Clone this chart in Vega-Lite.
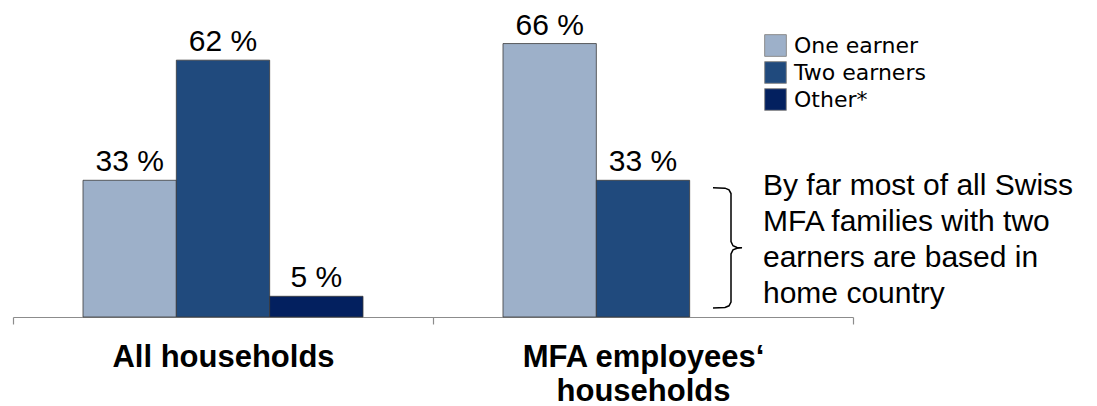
{
  "$schema": "https://vega.github.io/schema/vega-lite/v6.json",
  "width": 840,
  "height": 290,
  "autosize": {"type": "none"},
  "padding": {"left": 13, "top": 27, "right": 244, "bottom": 89},
  "background": "white",
  "config": {"view": {"stroke": null}, "font": "Liberation Sans"},
  "datasets": {
    "bars": [
      {"group": "All households", "series": "One earner", "value": 33, "label": "33 %"},
      {"group": "All households", "series": "Two earners", "value": 62, "label": "62 %"},
      {"group": "All households", "series": "Other*", "value": 5, "label": "5 %"},
      {"group": "MFA employees‘|households", "series": "One earner", "value": 66, "label": "66 %"},
      {"group": "MFA employees‘|households", "series": "Two earners", "value": 33, "label": "33 %"}
    ],
    "brace": [
      {"i": 0, "bx": 700, "by": 31.2},
      {"i": 1, "bx": 712, "by": 31.1},
      {"i": 2, "bx": 716, "by": 30.7},
      {"i": 3, "bx": 718, "by": 29.8},
      {"i": 4, "bx": 718, "by": 18.2},
      {"i": 5, "bx": 720, "by": 17.2},
      {"i": 6, "bx": 724, "by": 16.8},
      {"i": 7, "bx": 729, "by": 16.7},
      {"i": 8, "bx": 724, "by": 16.6},
      {"i": 9, "bx": 720, "by": 16.2},
      {"i": 10, "bx": 718, "by": 15.2},
      {"i": 11, "bx": 718, "by": 3.6},
      {"i": 12, "bx": 716, "by": 2.7},
      {"i": 13, "bx": 712, "by": 2.3},
      {"i": 14, "bx": 700, "by": 2.2}
    ],
    "note": [
      {"bx": 750, "by": 29.5, "text": "By far most of all Swiss|MFA families with two|earners are based in|home country"}
    ]
  },
  "layer": [
    {
      "data": {"name": "bars"},
      "encoding": {
        "x": {
          "field": "group", "type": "nominal", "sort": null,
          "scale": {"paddingInner": 0, "paddingOuter": 0},
          "axis": {
            "title": null,
            "labelAngle": 0,
            "labelExpr": "split(datum.label, '|')",
            "labelFont": "Liberation Sans",
            "labelFontSize": 31,
            "labelFontWeight": "bold",
            "labelColor": "black",
            "labelBaseline": "alphabetic",
            "labelPadding": 42,
            "labelLineHeight": 34,
            "labelLimit": 500,
            "tickBand": "extent",
            "tickSize": 7,
            "tickColor": "#8c8c8c",
            "domainColor": "#8c8c8c",
            "domainWidth": 1.2,
            "tickWidth": 1.2
          }
        },
        "xOffset": {
          "field": "series", "type": "nominal",
          "sort": ["One earner", "Two earners", "Other*"],
          "scale": {"domain": ["One earner", "Two earners", "Other*"], "paddingInner": 0, "paddingOuter": 0.75}
        },
        "y": {
          "field": "value", "type": "quantitative",
          "scale": {"domain": [0, 70], "nice": false},
          "axis": null
        }
      },
      "layer": [
        {
          "mark": {"type": "bar", "stroke": "#3a3a3a", "strokeWidth": 0.8},
          "encoding": {
            "color": {
              "field": "series", "type": "nominal",
              "scale": {"domain": ["One earner", "Two earners", "Other*"], "range": ["#9DB0C9", "#204A7D", "#03205F"]},
              "legend": {
                "title": null,
                "orient": "none",
                "legendX": 751,
                "legendY": 7,
                "symbolType": "square",
                "symbolSize": 470,
                "symbolStrokeColor": "#8c8c8c",
                "symbolStrokeWidth": 1,
                "symbolOpacity": 1,
                "labelFont": "DejaVu Sans",
                "labelFontSize": 22,
                "labelColor": "black",
                "labelOffset": 7,
                "rowPadding": 0,
                "labelLimit": 300
              }
            }
          }
        },
        {
          "mark": {"type": "text", "baseline": "alphabetic", "dy": -9, "fontSize": 30, "font": "Liberation Sans", "color": "black"},
          "encoding": {
            "text": {"field": "label"}
          }
        }
      ]
    },
    {
      "data": {"name": "brace"},
      "mark": {"type": "line", "color": "black", "strokeWidth": 1.5, "interpolate": "linear"},
      "encoding": {
        "x": {"field": "bx", "type": "quantitative", "scale": {"domain": [0, 840], "nice": false, "zero": false}, "axis": null},
        "y": {"field": "by", "type": "quantitative", "axis": null},
        "order": {"field": "i"}
      }
    },
    {
      "data": {"name": "note"},
      "mark": {"type": "text", "align": "left", "baseline": "alphabetic", "fontSize": 30, "font": "Liberation Sans", "lineHeight": 36, "lineBreak": "|", "color": "black"},
      "encoding": {
        "x": {"field": "bx", "type": "quantitative", "scale": {"domain": [0, 840], "nice": false, "zero": false}, "axis": null},
        "y": {"field": "by", "type": "quantitative", "axis": null},
        "text": {"field": "text"}
      }
    }
  ],
  "resolve": {"scale": {"x": "independent", "xOffset": "independent"}, "axis": {"x": "independent"}}
}
